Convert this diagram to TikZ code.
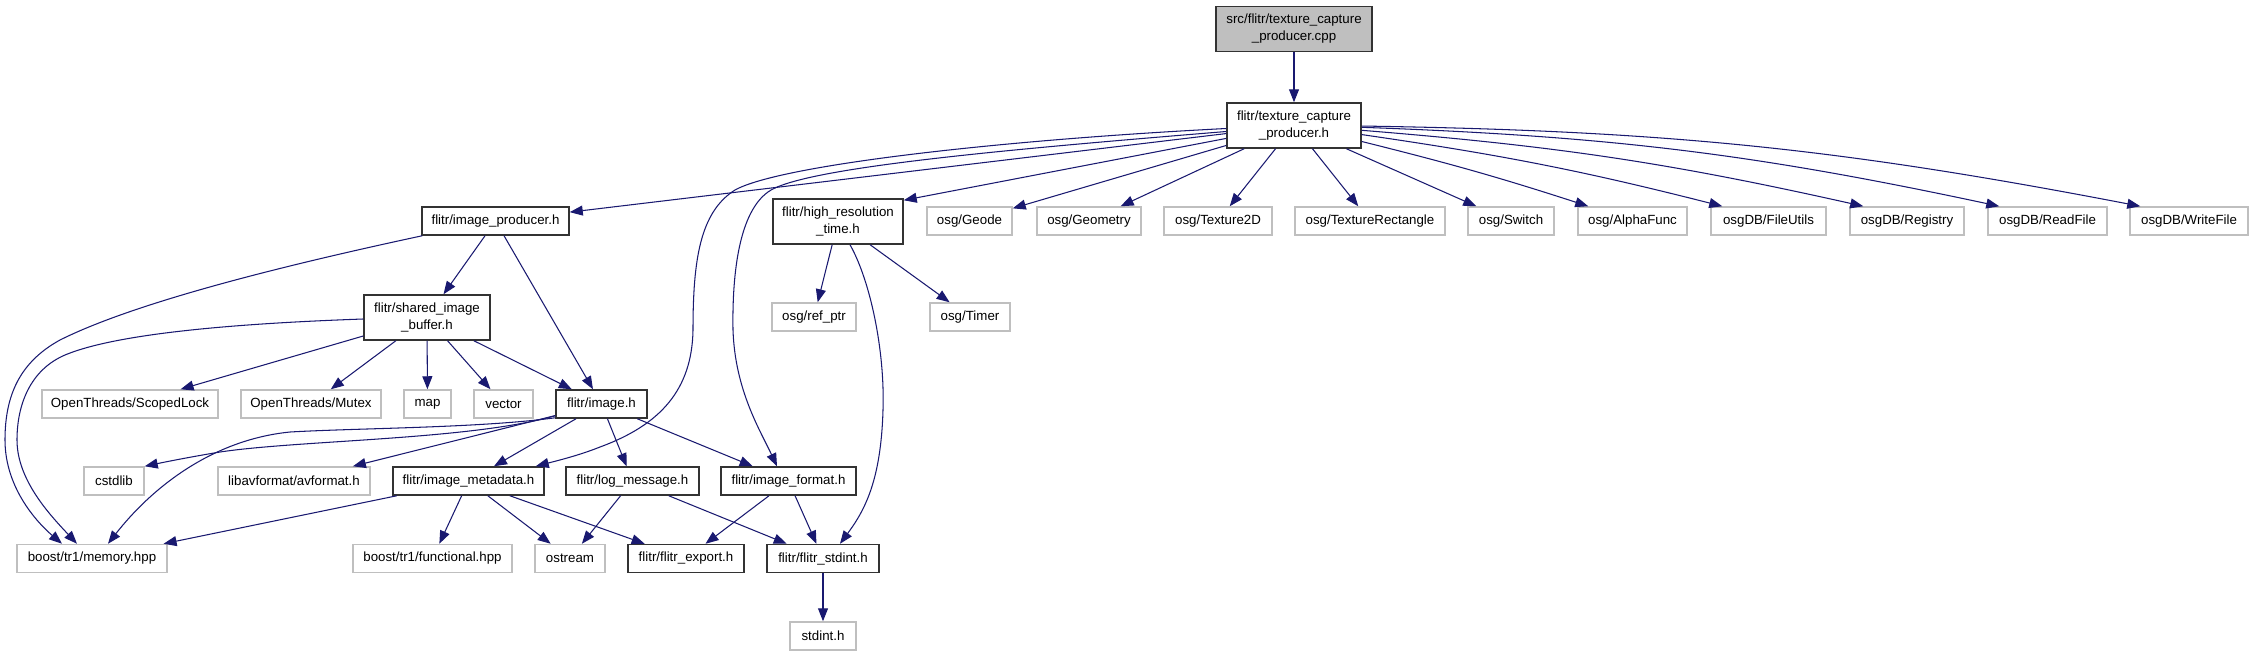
\documentclass[tikz,border=0pt]{standalone}
\usepackage{fontspec}
\setmainfont{Liberation Sans}
\usetikzlibrary{arrows.meta,calc}
\definecolor{edgec}{HTML}{191970}
\definecolor{greyb}{HTML}{BFBFBF}
\definecolor{boxline}{HTML}{333333}
\begin{document}
\begin{tikzpicture}[x=1pt,y=1pt,
  box/.style={draw=boxline, line width=1.5pt, fill=white, inner sep=0pt, minimum height=28pt, align=center, font=\fontsize{13.3}{17}\selectfont},
  ext/.style={box, draw=greyb},
  tall/.style={minimum height=45pt},
  edge/.style={draw=edgec, line width=1.05pt, -{Triangle[length=13pt,width=10pt]}}]
\useasboundingbox[fill=white] (0,0) rectangle (2253,-656);
% nodes
\node[box, fill=greyb, tall, minimum width=156] (cpp) at (1294,-29) {src/flitr/texture\_capture\\\_producer.cpp};
\node[box, tall, minimum width=134] (tcp) at (1294,-125.5) {flitr/texture\_capture\\\_producer.h};
\node[box, minimum width=147] (improd) at (495.5,-221) {flitr/image\_producer.h};
\node[box, tall, minimum width=130] (hrt) at (838,-221.5) {flitr/high\_resolution\\\_time.h};
\node[ext, minimum width=85] (geode) at (969.5,-221) {osg/Geode};
\node[ext, minimum width=104] (geometry) at (1089,-221) {osg/Geometry};
\node[ext, minimum width=108] (tex2d) at (1218,-221) {osg/Texture2D};
\node[ext, minimum width=150] (texrect) at (1370,-221) {osg/TextureRectangle};
\node[ext, minimum width=86] (switch) at (1511,-221) {osg/Switch};
\node[ext, minimum width=109] (alpha) at (1632.5,-221) {osg/AlphaFunc};
\node[ext, minimum width=115] (fileutils) at (1768.5,-221) {osgDB/FileUtils};
\node[ext, minimum width=114] (registry) at (1907,-221) {osgDB/Registry};
\node[ext, minimum width=119] (readfile) at (2047.5,-221) {osgDB/ReadFile};
\node[ext, minimum width=118] (writefile) at (2189,-221) {osgDB/WriteFile};
\node[box, tall, minimum width=126] (shared) at (427,-317.5) {flitr/shared\_image\\\_buffer.h};
\node[ext, minimum width=84] (refptr) at (814,-317) {osg/ref\_ptr};
\node[ext, minimum width=80] (timer) at (970,-317) {osg/Timer};
\node[ext, minimum width=176] (scoped) at (130,-404) {OpenThreads/ScopedLock};
\node[ext, minimum width=140] (mutex) at (311,-404) {OpenThreads/Mutex};
\node[ext, minimum width=47] (map) at (427.5,-404) {map};
\node[ext, minimum width=59] (vector) at (503.5,-404) {vector};
\node[box, minimum width=91] (image) at (601.5,-404) {flitr/image.h};
\node[ext, minimum width=60] (cstdlib) at (114,-481) {cstdlib};
\node[ext, minimum width=152] (avformat) at (294,-481) {libavformat/avformat.h};
\node[box, minimum width=151] (metadata) at (468.5,-481) {flitr/image\_metadata.h};
\node[box, minimum width=133] (logmsg) at (632.5,-481) {flitr/log\_message.h};
\node[box, minimum width=135] (imgformat) at (788.5,-481) {flitr/image\_format.h};
\node[ext, minimum width=150] (boostmem) at (92,-558.5) {boost/tr1/memory.hpp};
\node[ext, minimum width=159] (functional) at (432.5,-558.5) {boost/tr1/functional.hpp};
\node[ext, minimum width=70] (ostream) at (570,-558.5) {ostream};
\node[box, minimum width=116] (export) at (686,-558.5) {flitr/flitr\_export.h};
\node[box, minimum width=112] (fstdint) at (823,-558.5) {flitr/flitr\_stdint.h};
\node[ext, minimum width=66] (stdint) at (823,-636) {stdint.h};
% edges
\draw[edge] (cpp) -- (tcp);
\draw[edge] (tcp) -- (improd);
\draw[edge] (tcp) -- ([yshift=-2]hrt.north east);
\draw[edge] (tcp) -- (geode);
\draw[edge] (tcp) -- (geometry);
\draw[edge] (tcp) -- (tex2d);
\draw[edge] (tcp) -- (texrect);
\draw[edge] (tcp) -- ([xshift=9]switch.north west);
\draw[edge] (tcp) to[bend left=2] ([xshift=11]alpha.north west);
\draw[edge] (tcp) to[bend left=3] ([xshift=12]fileutils.north west);
\draw[edge] (tcp) to[bend left=4] ([xshift=14]registry.north west);
\draw[edge] (tcp) to[bend left=5] ([xshift=12]readfile.north west);
\draw[edge] (tcp) to[bend left=5] ([xshift=11]writefile.north west);
\draw[edge] ([yshift=-3]tcp.west) .. controls (1000,-140) and (780,-165) .. (735,-190) .. controls (700,-212) and (693,-260) .. (693,-330) .. controls (692,-390) and (660,-425) .. (600,-447) .. controls (580,-455) and (560,-460) .. ([xshift=-9]metadata.north east);
\draw[edge] ([yshift=-6]tcp.west) .. controls (1000,-150) and (800,-168) .. (768,-192) .. controls (740,-212) and (732,-270) .. (733,-330) .. controls (735,-390) and (760,-430) .. ([xshift=-11.5]imgformat.north);
\draw[edge] (hrt) -- (refptr);
\draw[edge] (hrt) -- (timer);
\draw[edge] ([xshift=12]hrt.south) .. controls (870,-280) and (885,-350) .. (883,-410) .. controls (881,-480) and (865,-510) .. ([xshift=17]fstdint.north);
\draw[edge] (improd) -- (shared);
\draw[edge] (improd) -- (image);
\draw[edge] ([xshift=1]improd.south west) .. controls (300,-262) and (140,-300) .. (60,-340) .. controls (20,-362) and (5,-395) .. (5,-440) .. controls (5,-490) and (40,-525) .. ([xshift=-30]boostmem.north);
\draw[edge] ([yshift=-1.5]shared.west) .. controls (250,-323) and (120,-332) .. (65,-355) .. controls (30,-370) and (17,-405) .. (17,-440) .. controls (17,-480) and (50,-515) .. ([xshift=-15]boostmem.north);
\draw[edge] (shared) -- (scoped);
\draw[edge] (shared) -- (mutex);
\draw[edge] (shared) -- (map);
\draw[edge] (shared) -- (vector);
\draw[edge] (shared) -- (image);
\draw[edge] ([yshift=1]image.south west) .. controls (480,-428) and (360,-428) .. (290,-432) .. controls (210,-440) and (150,-490) .. ([xshift=16]boostmem.north);
\draw[edge] ([yshift=3]image.south west) .. controls (470,-440) and (300,-440) .. (220,-452) .. controls (190,-457) and (165,-462) .. (cstdlib.north east);
\draw[edge] (image) -- (avformat);
\draw[edge] (image) -- (metadata);
\draw[edge] (image) -- (logmsg);
\draw[edge] (image) -- (imgformat);
\draw[edge] (metadata) -- (boostmem);
\draw[edge] (metadata) -- (functional);
\draw[edge] (metadata) -- (ostream);
\draw[edge] (metadata) -- (export);
\draw[edge] (logmsg) -- (ostream);
\draw[edge] (logmsg) -- (fstdint);
\draw[edge] (imgformat) -- (export);
\draw[edge] (imgformat) -- (fstdint);
\draw[edge] (fstdint) -- (stdint);
\end{tikzpicture}
\end{document}
